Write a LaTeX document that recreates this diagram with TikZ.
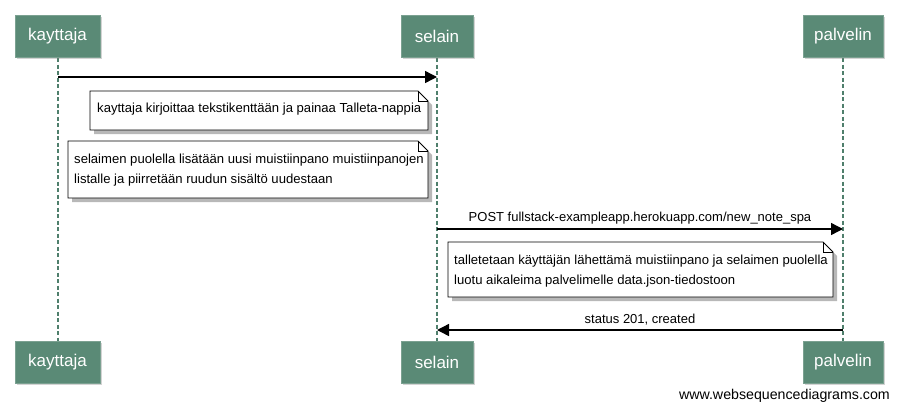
\documentclass[tikz,border=0pt]{standalone}
\usepackage{fontspec}
\setmainfont{Liberation Sans}
\usetikzlibrary{arrows.meta,shadows}
\definecolor{actor}{HTML}{5A8A76}
\definecolor{life}{HTML}{4F7F6C}
\tikzset{
  actorbox/.style={fill=actor, draw=actor!80!white, minimum width=84pt, minimum height=42pt, text=white, font=\fontsize{17}{20}\selectfont, inner sep=0pt, drop shadow={shadow xshift=1.5pt, shadow yshift=-1.5pt, opacity=0.35, fill=gray}},
  lifeline/.style={draw=life, line width=2.2pt, dash pattern=on 4pt off 2.5pt},
  msg/.style={draw=black, line width=1.4pt, -{Triangle[length=12pt,width=12pt]}},
  msglabel/.style={font=\fontsize{13}{15}\selectfont, inner sep=1pt},
  notetext/.style={font=\fontsize{13.1}{20}\selectfont, align=left, inner sep=0pt, anchor=north west},
}
\newcommand{\notebox}[5]{% x1 y1 x2 y2 name
  \fill[gray!70, opacity=0.8] (#1+4,#2+4) -- (#3+4-10,#2+4) -- (#3+4,#2+4+10) -- (#3+4,#4+4) -- (#1+4,#4+4) -- cycle;
  \draw[fill=white, line width=0.8pt] (#1,#2) -- (#3-10,#2) -- (#3,#2+10) -- (#3,#4) -- (#1,#4) -- cycle;
  \draw[line width=0.6pt] (#3-10,#2) -- (#3-10,#2+10) -- (#3,#2+10);
  \coordinate (#5) at (#1,#2);
}
\begin{document}
\begin{tikzpicture}[x=1pt,y=-1pt]
\useasboundingbox (0,0) rectangle (902,410);
% lifelines
\coordinate (kt) at (58,58); \coordinate (kb) at (58,341);
\coordinate (st) at (437,58); \coordinate (sb) at (437,341);
\coordinate (pt) at (843,58); \coordinate (pb) at (843,341);
\draw[lifeline] (kt) -- (kb);
\draw[lifeline] (st) -- (sb);
\draw[lifeline] (pt) -- (pb);
% actors
\node[actorbox, minimum width=85pt] (k1) at (57.5,36.5) {kayttaja};
\node[actorbox, minimum width=72pt] (s1) at (437,36.5) {selain};
\node[actorbox, minimum width=80pt] (p1) at (843,36.5) {palvelin};
\node[actorbox, minimum width=85pt] (k2) at (57.5,362.5) {kayttaja};
\node[actorbox, minimum width=72pt] (s2) at (437,362.5) {selain};
\node[actorbox, minimum width=80pt] (p2) at (843,362.5) {palvelin};
% messages
\coordinate (m1a) at (58,77); \coordinate (m1b) at (437,77);
\draw[msg] (m1a) -- (m1b);
\notebox{90}{91}{428}{130}{n1}
\node[notetext] (t1) at ([shift={(7,11.5)}]n1) {kayttaja kirjoittaa tekstikenttään ja painaa Talleta-nappia};
\notebox{68}{141}{428}{198}{n2}
\node[notetext] (t2) at ([shift={(6,12.5)}]n2) {selaimen puolella lisätään uusi muistiinpano muistiinpanojen\\listalle ja piirretään ruudun sisältö uudestaan};
\coordinate (m2a) at (437,229); \coordinate (m2b) at (843,229);
\draw[msg] (m2a) -- (m2b) node[msglabel, midway, above=3pt] (l2) {POST fullstack-exampleapp.herokuapp.com/new\_note\_spa};
\notebox{448}{242}{833}{297}{n3}
\node[notetext] (t3) at ([shift={(6,12.5)}]n3) {talletetaan käyttäjän lähettämä muistiinpano ja selaimen puolella\\luotu aikaleima palvelimelle data.json-tiedostoon};
\coordinate (m3a) at (843,330); \coordinate (m3b) at (437,330);
\draw[msg] (m3a) -- (m3b) node[msglabel, midway, above=3pt] (l3) {status 201, created};
\node[font=\fontsize{14.2}{16}\selectfont, anchor=east, inner sep=0pt] (wm) at (890,396) {www.websequencediagrams.com};
\end{tikzpicture}
\end{document}
